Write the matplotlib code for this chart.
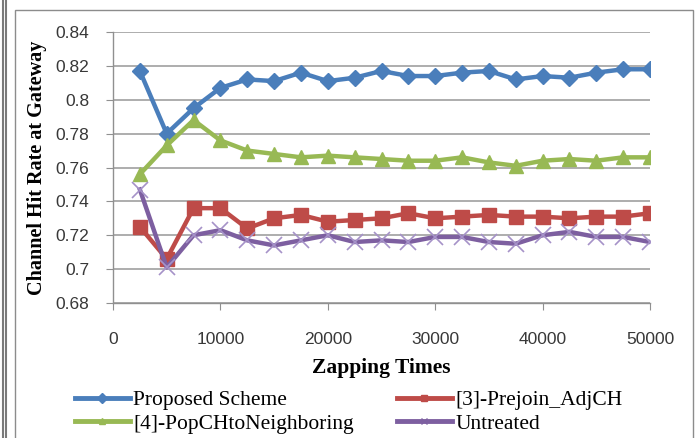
import matplotlib
matplotlib.use("Agg")
import matplotlib.pyplot as plt
from matplotlib.lines import Line2D
from matplotlib.patches import Rectangle

zapping = [2500, 5000, 7500, 10000, 12500, 15000, 17500, 20000, 22500, 25000,
           27500, 30000, 32500, 35000, 37500, 40000, 42500, 45000, 47500, 50000]

proposed = [0.817, 0.780, 0.795, 0.807, 0.812, 0.811, 0.816, 0.811, 0.813, 0.817,
            0.814, 0.814, 0.816, 0.817, 0.812, 0.814, 0.813, 0.816, 0.818, 0.818]
prejoin = [0.725, 0.706, 0.736, 0.736, 0.724, 0.730, 0.732, 0.728, 0.729, 0.730,
           0.733, 0.730, 0.731, 0.732, 0.731, 0.731, 0.730, 0.731, 0.731, 0.733]
popch = [0.756, 0.773, 0.788, 0.776, 0.770, 0.768, 0.766, 0.767, 0.766, 0.765,
         0.764, 0.764, 0.766, 0.763, 0.761, 0.764, 0.765, 0.764, 0.766, 0.766]
untreated = [0.747, 0.701, 0.720, 0.723, 0.717, 0.714, 0.717, 0.720, 0.716, 0.717,
             0.716, 0.719, 0.719, 0.716, 0.715, 0.720, 0.722, 0.719, 0.719, 0.716]

labels = ["Proposed Scheme", "[3]-Prejoin_AdjCH",
          "[4]-PopCHtoNeighboring", "Untreated"]
colors = ["#4A7EBB", "#BE4B48", "#98B954", "#7D5FA0"]
markers = ["D", "s", "^", "x"]
series = [proposed, prejoin, popch, untreated]

yticks = [0.68, 0.70, 0.72, 0.74, 0.76, 0.78, 0.80, 0.82, 0.84]
ylabels = ["0.68", "0.7", "0.72", "0.74", "0.76", "0.78", "0.8", "0.82", "0.84"]
xticks = [0, 10000, 20000, 30000, 40000, 50000]

W, H = 696, 438
fig = plt.figure(figsize=(W / 100, H / 100), dpi=100)
ax = fig.add_axes([113 / W, 1 - 303 / H, 537 / W, 271 / H])

for vals, c, m in zip(series, colors, markers):
    if m == "x":
        ax.plot(zapping, vals, color=c, lw=3.2, marker=m, markersize=11,
                markeredgecolor="#A592C8", markeredgewidth=1.2, zorder=3)
    elif m == "D":
        ax.plot(zapping, vals, color=c, lw=3.2, marker=m, markersize=8.5,
                markeredgecolor=c, zorder=3)
    else:
        ax.plot(zapping, vals, color=c, lw=3.2, marker=m, markersize=9.5,
                markeredgecolor=c, zorder=3)

ax.set_xlim(0, 50000)
ax.set_ylim(0.68, 0.84)
ax.set_yticks(yticks)
ax.set_yticklabels(ylabels)
ax.set_xticks(xticks)
ax.set_xticklabels([str(t) for t in xticks])
ax.yaxis.grid(True, color="#A0A0A0", lw=1.2)
ax.set_axisbelow(True)
for s in ["top", "right"]:
    ax.spines[s].set_visible(False)
for s in ["left", "bottom"]:
    ax.spines[s].set_color("#909090")
    ax.spines[s].set_linewidth(1.0)
ax.tick_params(direction="out", length=5, color="#909090", labelsize=12.5,
               labelcolor="#383838")
ax.tick_params(axis="x", pad=16)
ax.tick_params(axis="y", pad=12)
for t in ax.get_xticklabels() + ax.get_yticklabels():
    t.set_family("Liberation Sans")

ax.set_xlabel("Zapping Times", family="Liberation Serif", fontweight="bold",
              fontsize=15.5, va="center")
ax.set_ylabel("Channel Hit Rate at Gateway", family="Liberation Serif",
              fontweight="bold", fontsize=14.5, va="center")
ax.xaxis.set_label_coords(0.5, (303 - 368) / 271)
ax.yaxis.set_label_coords((37 - 113) / 537, 0.5)

# legend: two columns, each placed on its own
handles = [Line2D([], [], color=c, lw=3.5, marker=m, markersize=5,
                  markeredgecolor=c) for c, m in zip(colors, markers)]
leg_kw = dict(loc="upper left", frameon=False, handlelength=2.55,
              handletextpad=0.15, labelspacing=0.17, borderpad=0,
              borderaxespad=0, prop={"family": "Liberation Serif", "size": 15.5})
leg1 = fig.legend([handles[0], handles[2]], [labels[0], labels[2]],
                  bbox_to_anchor=(75 / W, 1 - 390 / H), **leg_kw)
leg2 = fig.legend([handles[1], handles[3]], [labels[1], labels[3]],
                  bbox_to_anchor=(397 / W, 1 - 390 / H), **leg_kw)

# chart frame
fig.add_artist(Rectangle((15 / W, -0.05), 678 / W, 1 - 10 / H + 0.05,
                         transform=fig.transFigure, fill=False,
                         edgecolor="#8C8C8C", lw=1.0))
for x in (2.5, 6.0):
    fig.add_artist(Line2D([x / W, x / W], [0, 1], transform=fig.transFigure,
                          color="#7A7A7A", lw=1.5))

fig.savefig("out.png", dpi=100)
